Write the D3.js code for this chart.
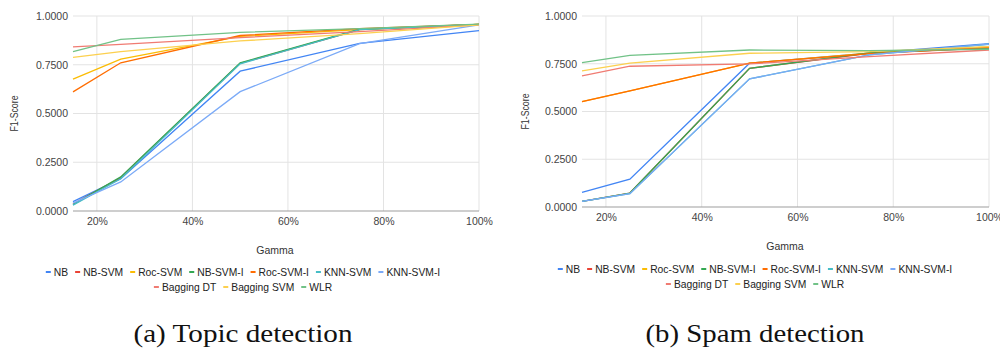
<!DOCTYPE html>
<html>
<head>
<meta charset="utf-8">
<script src="https://cdn.jsdelivr.net/npm/d3@7"></script>
<style>
  body { margin: 0; background: #fff; }
  svg { display: block; }
</style>
</head>
<body>
<svg id="chart" width="1000" height="349"></svg>
<script>
const gammaValues = [15, 25, 50, 75, 100];
const xTicks = [20, 40, 60, 80, 100];
const yTicks = [0, 0.25, 0.5, 0.75, 1];

const seriesNames = ["NB", "NB-SVM", "Roc-SVM", "NB-SVM-I", "Roc-SVM-I", "KNN-SVM", "KNN-SVM-I", "Bagging DT", "Bagging SVM", "WLR"];
const seriesColors = ["#4285f4", "#ea4335", "#fbbc04", "#34a853", "#ff6d01", "#46bdc6", "#7baaf7", "#f07b72", "#fcd04f", "#71c287"];

// (a) topic detection, one row per series
const topicScores = [
  [0.048, 0.166, 0.717, 0.860, 0.925],
  [0.035, 0.172, 0.757, 0.930, 0.957],
  [0.676, 0.779, 0.895, 0.930, 0.957],
  [0.033, 0.175, 0.760, 0.932, 0.957],
  [0.611, 0.760, 0.900, 0.935, 0.957],
  [0.030, 0.165, 0.755, 0.930, 0.956],
  [0.040, 0.149, 0.612, 0.858, 0.955],
  [0.842, 0.854, 0.889, 0.920, 0.955],
  [0.788, 0.817, 0.872, 0.910, 0.955],
  [0.817, 0.880, 0.916, 0.935, 0.958]
];

// (b) spam detection
const spamScores = [
  [0.077, 0.146, 0.753, 0.805, 0.855],
  [0.030, 0.073, 0.726, 0.805, 0.832],
  [0.552, 0.608, 0.753, 0.805, 0.838],
  [0.030, 0.073, 0.726, 0.807, 0.832],
  [0.552, 0.608, 0.753, 0.803, 0.836],
  [0.030, 0.070, 0.671, 0.796, 0.852],
  [0.030, 0.070, 0.671, 0.796, 0.853],
  [0.686, 0.737, 0.749, 0.787, 0.822],
  [0.713, 0.753, 0.805, 0.814, 0.840],
  [0.756, 0.794, 0.822, 0.819, 0.826]
];

const captions = ["(a) Topic detection", "(b) Spam detection"];

const svg = d3.select("#chart");
const font = "'Liberation Sans', Arial, sans-serif";

function drawPanel(opts) {
  const { scores, left, right, top, bottom, caption, centre, gammaX, gammaY, legendY, yLabelX } = opts;
  const g = svg.append("g");

  const x = d3.scaleLinear().domain([15, 100]).range([left, right]);
  const y = d3.scaleLinear().domain([0, 1]).range([bottom, top]);

  // grid
  g.append("g")
    .selectAll("line")
    .data(yTicks.filter((d) => d > 0))
    .enter()
    .append("line")
    .attr("x1", left)
    .attr("x2", right)
    .attr("y1", (d) => y(d))
    .attr("y2", (d) => y(d))
    .attr("stroke", "#e3e3e3");

  g.append("g")
    .selectAll("line")
    .data(xTicks)
    .enter()
    .append("line")
    .attr("x1", (d) => x(d))
    .attr("x2", (d) => x(d))
    .attr("y1", top)
    .attr("y2", bottom)
    .attr("stroke", "#e3e3e3");

  // y axis labels, no axis line
  const yAxis = g.append("g")
    .attr("transform", `translate(${left},0)`)
    .call(d3.axisLeft(y).tickValues(yTicks).tickFormat(d3.format(".4f")).tickSize(0).tickPadding(5));
  yAxis.select(".domain").remove();
  yAxis.selectAll("text").attr("font-family", font).attr("font-size", 10.5).attr("fill", "#444");

  // x axis labels
  const xAxis = g.append("g")
    .attr("transform", `translate(0,${bottom})`)
    .call(d3.axisBottom(x).tickValues(xTicks).tickFormat((d) => d + "%").tickSize(0).tickPadding(7));
  xAxis.select(".domain").remove();
  xAxis.selectAll("text").attr("font-family", font).attr("font-size", 10.5).attr("fill", "#444");

  // lines
  const line = d3.line()
    .x((d, i) => x(gammaValues[i]))
    .y((d) => y(d));

  g.append("g")
    .selectAll("path")
    .data(scores)
    .enter()
    .append("path")
    .attr("d", line)
    .attr("fill", "none")
    .attr("stroke", (d, i) => seriesColors[i])
    .attr("stroke-width", 1.3);

  // baseline on top
  g.append("line")
    .attr("x1", left)
    .attr("x2", right)
    .attr("y1", y(0))
    .attr("y2", y(0))
    .attr("stroke", "#9e9e9e")
    .attr("stroke-width", 1.2);

  g.append("text")
    .attr("x", gammaX)
    .attr("y", gammaY)
    .attr("text-anchor", "middle")
    .attr("font-family", font)
    .attr("font-size", 10.5)
    .attr("fill", "#333")
    .text("Gamma");

  g.append("text")
    .attr("transform", `translate(${yLabelX},${(top + bottom) / 2}) rotate(-90)`)
    .attr("text-anchor", "middle")
    .attr("font-family", font)
    .attr("font-size", 10.5)
    .attr("textLength", 36)
    .attr("lengthAdjust", "spacingAndGlyphs")
    .attr("fill", "#333")
    .text("F1-Score");

  // legend: two rows, centred
  const rows = [seriesNames.slice(0, 7), seriesNames.slice(7)];
  let idx = 0;
  rows.forEach((names, r) => {
    const row = g.append("g");
    let cx = 0;
    names.forEach((name) => {
      const item = row.append("g").attr("transform", `translate(${cx},0)`);
      item.append("rect")
        .attr("x", 0)
        .attr("y", -1)
        .attr("width", 5)
        .attr("height", 2)
        .attr("fill", seriesColors[idx]);
      const t = item.append("text")
        .attr("x", 8)
        .attr("y", 4)
        .attr("font-family", font)
        .attr("font-size", 10.3)
        .attr("fill", "#222")
        .text(name);
      cx += 8 + t.node().getComputedTextLength() + 7;
      idx++;
    });
    const w = cx - 7;
    row.attr("transform", `translate(${centre - w / 2},${legendY[r]})`);
  });

  svg.append("text")
    .attr("x", centre)
    .attr("y", 342)
    .attr("text-anchor", "middle")
    .attr("font-family", "'Liberation Serif', 'DejaVu Serif', serif")
    .attr("font-size", 25)
    .attr("textLength", 219)
    .attr("lengthAdjust", "spacingAndGlyphs")
    .attr("fill", "#111")
    .text(caption);
}

drawPanel({
  scores: topicScores,
  left: 73, right: 479, top: 16, bottom: 211,
  caption: captions[0], centre: 243, gammaX: 275, gammaY: 254,
  legendY: [272, 287], yLabelX: 18
});

drawPanel({
  scores: spamScores,
  left: 582, right: 989, top: 16, bottom: 207,
  caption: captions[1], centre: 755, gammaX: 785, gammaY: 250,
  legendY: [269, 284], yLabelX: 529
});
</script>
</body>
</html>
